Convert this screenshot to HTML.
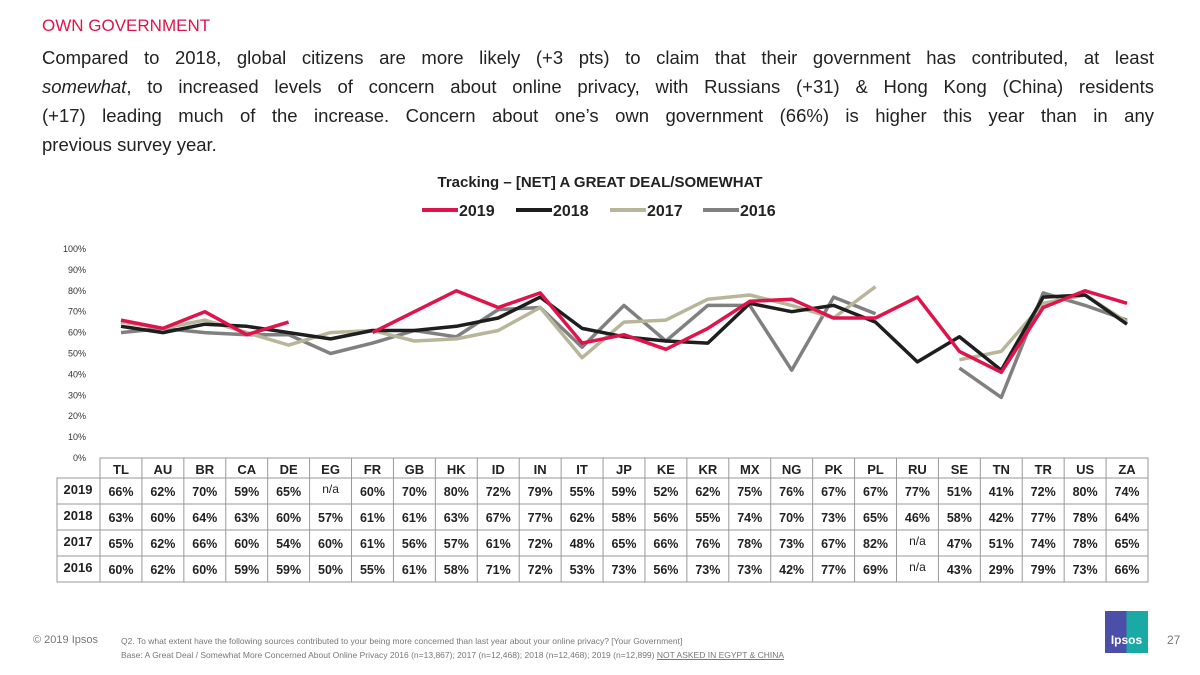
<!DOCTYPE html>
<html><head><meta charset="utf-8"><style>
body{margin:0;width:1200px;height:675px;background:#fff;font-family:"Liberation Sans",sans-serif;position:relative;overflow:hidden}
.abs{position:absolute}
.hl div{text-align:justify;text-align-last:justify;white-space:nowrap}
.hl div.last{text-align-last:left}
</style></head><body>
<div class="abs" style="left:42px;top:16px;font-size:17px;color:#e0144c">OWN GOVERNMENT</div>
<div class="abs hl" style="left:42px;top:43px;width:1112px;font-size:18.5px;line-height:29px;color:#222">
<div style="white-space:normal">Compared to 2018, global citizens are more likely (+3 pts) to claim that their government has contributed, at least</div>
<div style="white-space:normal"><i>somewhat</i>, to increased levels of concern about online privacy, with Russians (+31) &amp; Hong Kong (China) residents</div>
<div style="white-space:normal">(+17) leading much of the increase. Concern about one’s own government (66%) is higher this year than in any</div>
<div class="last">previous survey year.</div>
</div>
<svg id="chart" class="abs" style="left:0;top:0" width="1200" height="675"></svg>
<div class="abs" style="left:33px;top:634px;font-size:11px;color:#777">© 2019 Ipsos</div>
<div class="abs" style="left:121px;top:634px;font-size:8.5px;color:#777;line-height:14px">Q2. To what extent have the following sources contributed to your being more concerned than last year about your online privacy? [Your Government]<br>Base: A Great Deal / Somewhat More Concerned About Online Privacy 2016 (n=13,867); 2017 (n=12,468); 2018 (n=12,468); 2019 (n=12,899) <span style="text-decoration:underline">NOT ASKED IN EGYPT &amp; CHINA</span></div>
<div class="abs" style="left:1105px;top:611px;width:43px;height:42px;background:linear-gradient(90deg,#4b4fa8 50%,#1aa9a5 50%);color:#fff;font-size:12px;font-weight:bold;text-align:center;line-height:58px">Ipsos</div>
<div class="abs" style="left:1167px;top:633px;font-size:12px;color:#777">27</div>
<script>
const categories=["TL","AU","BR","CA","DE","EG","FR","GB","HK","ID","IN","IT","JP","KE","KR","MX","NG","PK","PL","RU","SE","TN","TR","US","ZA"];
const years=["2019","2018","2017","2016"];
const s2019=[66,62,70,59,65,null,60,70,80,72,79,55,59,52,62,75,76,67,67,77,51,41,72,80,74];
const s2018=[63,60,64,63,60,57,61,61,63,67,77,62,58,56,55,74,70,73,65,46,58,42,77,78,64];
const s2017=[65,62,66,60,54,60,61,56,57,61,72,48,65,66,76,78,73,67,82,null,47,51,74,78,65];
const s2016=[60,62,60,59,59,50,55,61,58,71,72,53,73,56,73,73,42,77,69,null,43,29,79,73,66];
const yTicks=[0,10,20,30,40,50,60,70,80,90,100];
const series=[s2019,s2018,s2017,s2016];
const colors=["#e0144c","#1e1e1e","#b7b69b","#808080"];
const svg=document.getElementById('chart');const NS="http://www.w3.org/2000/svg";
const x0=100,colW=(1148-100)/25,yTop=249,yBot=458;
const xs=i=>x0+colW*(i+0.5);const ys=v=>yBot-(v/100)*(yBot-yTop);
function mk(t,a,p){const e=document.createElementNS(NS,t);for(const k in a)e.setAttribute(k,a[k]);(p||svg).appendChild(e);return e;}
let t=mk('text',{x:600,y:187,'text-anchor':'middle','font-size':15,'font-weight':'bold',fill:'#222'});t.textContent="Tracking – [NET] A GREAT DEAL/SOMEWHAT";


const legX=[422,516,610,703];
years.forEach((y,i)=>{const g=mk('g',{});


mk('line',{x1:legX[i],x2:legX[i]+36,y1:210,y2:210,stroke:colors[i],'stroke-width':4},g);
const tt=mk('text',{x:legX[i]+37,y:216,'font-size':16,'font-weight':'bold',fill:'#222'},g);tt.textContent=y;});
yTicks.forEach(v=>{const tx=mk('text',{x:86,y:ys(v)+3,'text-anchor':'end','font-size':9,fill:'#333'});tx.textContent=v+'%';

});
for(let si=series.length-1;si>=0;si--){const d=series[si];let path='';let pen=false;
d.forEach((v,i)=>{if(v==null){pen=false;return;}path+=(pen?'L':'M')+xs(i).toFixed(1)+' '+ys(v).toFixed(1);pen=true;});
const p=mk('path',{d:path,fill:'none',stroke:colors[si],'stroke-width':3.5,'stroke-linejoin':'round'});

}
const tg=mk('g',{});


const hTop=458,hBot=478,rowH=26,lbl0=57;
mk('rect',{x:x0,y:hTop,width:1048,height:hBot-hTop,fill:'none',stroke:'#999'},tg);
mk('rect',{x:lbl0,y:hBot,width:1148-lbl0,height:rowH*4,fill:'none',stroke:'#999'},tg);
for(let i=0;i<=25;i++)mk('line',{x1:x0+colW*i,x2:x0+colW*i,y1:hTop,y2:hBot+rowH*4,stroke:'#999'},tg);
for(let r=1;r<4;r++)mk('line',{x1:lbl0,x2:1148,y1:hBot+rowH*r,y2:hBot+rowH*r,stroke:'#999'},tg);
categories.forEach((c,i)=>{const e=mk('text',{x:xs(i),y:474,'text-anchor':'middle','font-size':13,'font-weight':'bold',fill:'#222'},tg);e.textContent=c;});
series.forEach((d,r)=>{const cy=hBot+rowH*r+18;
const l=mk('text',{x:78,y:cy-2,'text-anchor':'middle','font-size':13,'font-weight':'bold',fill:'#222'},tg);l.textContent=years[r];
d.forEach((v,i)=>{const e=mk('text',{x:xs(i),y:v==null?cy-3:cy,'text-anchor':'middle','font-size':v==null?12:12.5,'font-weight':v==null?'normal':'bold',fill:'#222'},tg);e.textContent=v==null?'n/a':v+'%';});});
</script>
</body></html>
